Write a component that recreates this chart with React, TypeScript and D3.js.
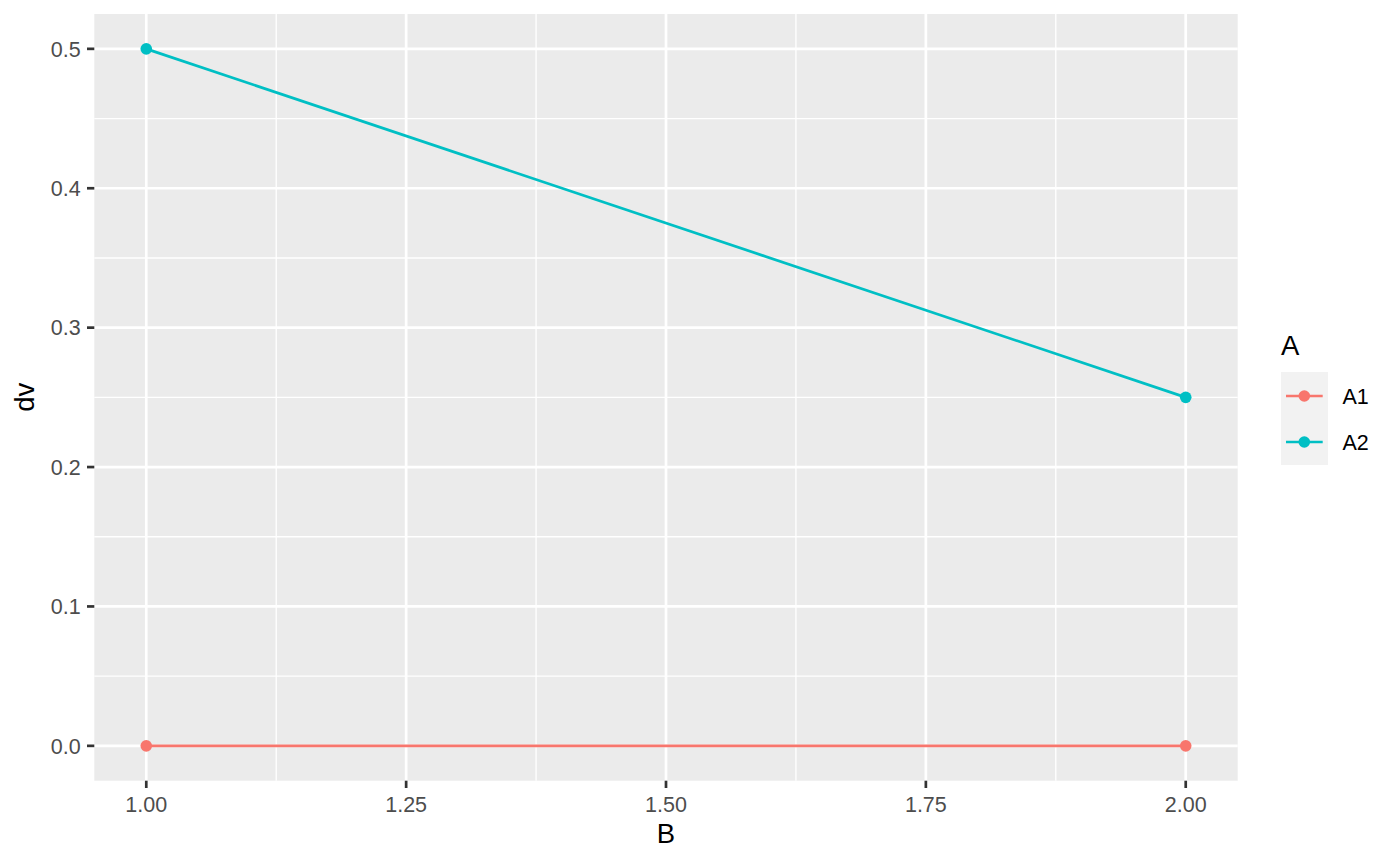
import React from "react";
import * as d3 from "d3";

const seriesNames = ["A1", "A2"];
const colors = ["#F8766D", "#00BFC4"];
const xValues = [1, 2];
const a1Values = [0, 0];
const a2Values = [0.5, 0.25];
const xTicks = [1, 1.25, 1.5, 1.75, 2];
const yTicks = [0, 0.1, 0.2, 0.3, 0.4, 0.5];

const W = 1400, H = 865;
const panel = { left: 94.3, right: 1237.7, top: 14, bottom: 780.7 };

export default function App() {
  const x = d3.scaleLinear().domain([0.95, 2.05]).range([panel.left, panel.right]);
  const y = d3.scaleLinear().domain([-0.025, 0.525]).range([panel.bottom, panel.top]);
  const series = [a1Values, a2Values];
  const line = d3.line<[number, number]>().x(d => x(d[0])).y(d => y(d[1]));
  const xMinor = xTicks.slice(0, -1).map((t, i) => (t + xTicks[i + 1]) / 2);
  const yMinor = yTicks.slice(0, -1).map((t, i) => (t + yTicks[i + 1]) / 2);
  const font = "Liberation Sans, Arial, Helvetica, sans-serif";
  const legendY = [396, 442];
  const lw = 2.7;
  return (
    <svg width={W} height={H} style={{ position: "absolute", left: 0, top: 0 }} fontFamily={font}>
      <rect x={0} y={0} width={W} height={H} fill="white" />
      <rect x={panel.left} y={panel.top} width={panel.right - panel.left} height={panel.bottom - panel.top} fill="#EBEBEB" />
      {xMinor.map(t => <line key={"xm" + t} x1={x(t)} x2={x(t)} y1={panel.top} y2={panel.bottom} stroke="white" strokeWidth={lw / 2} />)}
      {yMinor.map(t => <line key={"ym" + t} y1={y(t)} y2={y(t)} x1={panel.left} x2={panel.right} stroke="white" strokeWidth={lw / 2} />)}
      {xTicks.map(t => <line key={"x" + t} x1={x(t)} x2={x(t)} y1={panel.top} y2={panel.bottom} stroke="white" strokeWidth={lw} />)}
      {yTicks.map(t => <line key={"y" + t} y1={y(t)} y2={y(t)} x1={panel.left} x2={panel.right} stroke="white" strokeWidth={lw} />)}
      {series.map((vals, i) => (
        <g key={seriesNames[i]}>
          <path d={line(xValues.map((xv, j) => [xv, vals[j]] as [number, number])) || ""} fill="none" stroke={colors[i]} strokeWidth={lw} />
          {xValues.map((xv, j) => <circle key={j} cx={x(xv)} cy={y(vals[j])} r={5.8} fill={colors[i]} />)}
        </g>
      ))}
      {xTicks.map(t => (
        <g key={"xt" + t}>
          <line x1={x(t)} x2={x(t)} y1={panel.bottom} y2={panel.bottom + 7.3} stroke="#333333" strokeWidth={lw} />
          <text x={x(t)} y={811.5} textAnchor="middle" fontSize={21.5} fill="#4D4D4D">{t.toFixed(2)}</text>
        </g>
      ))}
      {yTicks.map(t => (
        <g key={"yt" + t}>
          <line x1={panel.left - 7.3} x2={panel.left} y1={y(t)} y2={y(t)} stroke="#333333" strokeWidth={lw} />
          <text x={80.7} y={y(t) + 7.8} textAnchor="end" fontSize={21.5} fill="#4D4D4D">{t.toFixed(1)}</text>
        </g>
      ))}
      <text x={(panel.left + panel.right) / 2} y={843.3} textAnchor="middle" fontSize={27.5} fill="black">B</text>
      <text transform={`translate(33.5,${(panel.top + panel.bottom) / 2}) rotate(-90)`} textAnchor="middle" fontSize={27.5} fill="black">dv</text>
      <text x={1281} y={355} fontSize={27.5} fill="black">A</text>
      <rect x={1281} y={372} width={47} height={93} fill="#F2F2F2" />
      {seriesNames.map((n, i) => (
        <g key={"lg" + n}>
          <line x1={1286} x2={1322.7} y1={legendY[i]} y2={legendY[i]} stroke={colors[i]} strokeWidth={lw} />
          <circle cx={1304.3} cy={legendY[i]} r={5.8} fill={colors[i]} />
          <text x={1342.5} y={legendY[i] + 8} fontSize={21.5} fill="black">{n}</text>
        </g>
      ))}
    </svg>
  );
}
